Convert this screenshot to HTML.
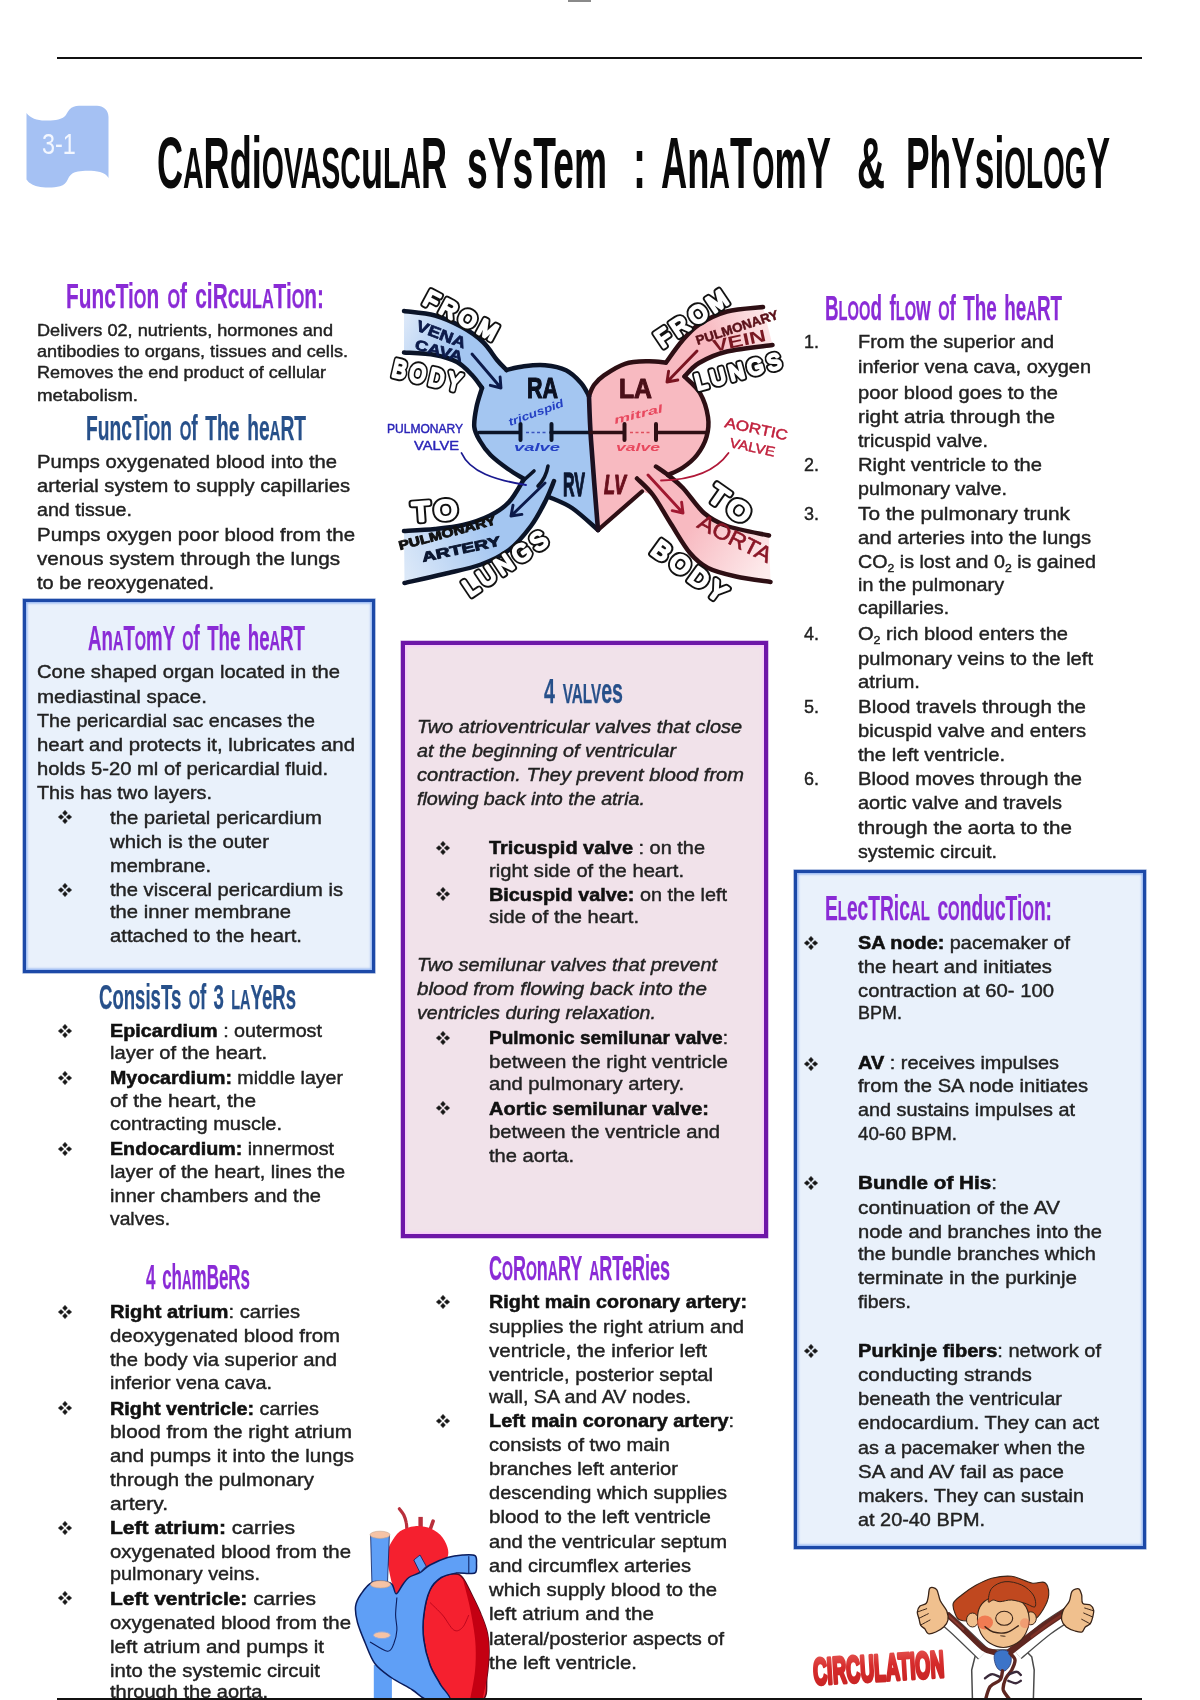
<!DOCTYPE html>
<html><head><meta charset="utf-8"><title>Cardiovascular System : Anatomy &amp; Physiology</title>
<style>
html,body{margin:0;padding:0;background:#fff;font-family:"Liberation Sans",sans-serif}
#pg{filter:blur(.45px);position:relative;width:1200px;height:1700px;overflow:hidden;background:#fff;font-family:"Liberation Sans",sans-serif;color:#222}
.l{position:absolute;white-space:nowrap;transform-origin:0 0;line-height:1.2}
.b,.s,.i{-webkit-text-stroke:.42px #222}
.b{font-size:19px}
.s{font-size:17px}
.i{font-size:19px;font-style:italic}
.l b{font-weight:bold;color:#111;-webkit-text-stroke:.55px #111}
.l sub{font-size:.62em;vertical-align:-.35em;line-height:0}
.h{font-size:35.2px;font-weight:bold;word-spacing:.12em;-webkit-text-stroke:.25px}
.hp{color:#8a2bd6}
.hb{color:#27508a}
.t{font-size:73px;font-weight:bold;color:#0a0a0a}
.t .sc{font-size:.79em}
.sc{font-size:.78em}
.bu{position:absolute}
.box{position:absolute;box-sizing:border-box}
.rule{position:absolute;background:#111}

</style></head>
<body>
<div id="pg">
<div class="rule" style="left:57px;top:57px;width:1085px;height:2px"></div>
<div class="rule" style="left:568px;top:0;width:23px;height:2px;background:#8a8a8a"></div>
<div class="box" style="left:23px;top:599px;width:352px;height:374px;border:3px solid #1c49a8;background:#e9f1fb;box-shadow:0 0 0 .6px rgba(28,73,168,.55),inset 0 0 2px 1.5px rgba(125,165,240,.75)"></div>
<div class="box" style="left:401px;top:641px;width:367px;height:597px;border:4px solid #6e16a8;background:#f1e2ea;box-shadow:0 0 0 .5px rgba(110,22,168,.5),inset 0 0 2.5px 1.5px rgba(250,195,255,.9)"></div>
<div class="box" style="left:794px;top:870px;width:352px;height:679px;border:3px solid #1c49a8;background:#e9f1fb;box-shadow:0 0 0 .6px rgba(28,73,168,.55),inset 0 0 2px 1.5px rgba(125,165,240,.75)"></div>
<svg style="position:absolute;left:20px;top:100px" width="95" height="95" viewBox="20 100 95 95">
<path d="M26.500 113 C30 118 37 120.500 45 120.500 C53 120.500 60 120 64 117 C67 114.500 67 112 69.500 109.500 C72 107 75 105.800 79 105.800 L97 105.800 C103 105.800 108.500 110 108.500 117 L108.500 178 C107 175 104 173 100 172 C94 170.500 84 170.500 78 171.500 C72 172.500 70 175 68 179 C66 183 64 185 60 186.200 C54 188 44 188 38 186.500 C32 185 28.500 182.500 26.500 179.500 Z" fill="#a5c1f3"/>
</svg>
<div class="l" style="left:42px;top:126px;font-size:30px;line-height:1.2;color:#f3f7ff;transform:scaleX(.78)">3-1</div>

<svg style="position:absolute;left:380px;top:280px" width="420" height="330" viewBox="380 280 420 330" font-family="Liberation Sans, sans-serif">
<defs>
<linearGradient id="gvc" gradientUnits="userSpaceOnUse" x1="400" y1="320" x2="500" y2="375"><stop offset="0" stop-color="#dfeaf9"/><stop offset=".55" stop-color="#a4c6f1"/></linearGradient>
<linearGradient id="gpa" gradientUnits="userSpaceOnUse" x1="400" y1="560" x2="540" y2="490"><stop offset="0" stop-color="#dbe8f8"/><stop offset=".6" stop-color="#a4c6f1"/></linearGradient>
<linearGradient id="gpv" gradientUnits="userSpaceOnUse" x1="775" y1="325" x2="675" y2="370"><stop offset="0" stop-color="#fde9ea"/><stop offset=".6" stop-color="#f8bac1"/></linearGradient>
<linearGradient id="gao" gradientUnits="userSpaceOnUse" x1="775" y1="560" x2="650" y2="480"><stop offset="0" stop-color="#fdeced"/><stop offset=".6" stop-color="#f8bac1"/></linearGradient>
</defs>
<path d="M404.0 311.0C409.2 311.8 425.3 312.8 435.0 315.5C444.7 318.2 454.0 322.6 462.0 327.0C470.0 331.4 477.2 336.5 483.0 342.0C488.8 347.5 493.1 355.3 497.0 360.0C500.9 364.7 504.9 368.3 506.5 370.0L482.0 388.0C480.3 385.8 476.2 379.3 472.0 375.0C467.8 370.7 463.2 365.3 457.0 362.0C450.8 358.7 443.8 356.6 435.0 355.0C426.2 353.4 409.2 352.9 404.0 352.5Z" fill="url(#gvc)"/>
<path d="M763.0 307.0C757.0 307.8 737.7 308.6 727.0 311.5C716.3 314.4 706.5 319.6 699.0 324.5C691.5 329.4 687.5 334.7 682.0 341.0C676.5 347.3 668.7 358.9 666.0 362.5L684.5 376.5C686.9 374.2 691.9 367.2 699.0 363.0C706.1 358.8 714.8 354.5 727.0 351.5C739.2 348.5 764.9 346.1 772.5 345.0Z" fill="url(#gpv)"/>
<path d="M524.0 479.0C521.5 482.8 514.7 495.9 509.0 502.0C503.3 508.1 497.7 511.7 490.0 515.5C482.3 519.3 472.2 522.8 463.0 525.0C453.8 527.2 444.8 528.0 435.0 529.0C425.2 530.0 409.2 530.7 404.0 531.0L404.5 583.0C411.1 581.5 431.2 577.1 444.0 574.0C456.8 570.9 470.2 568.5 481.0 564.5C491.8 560.5 500.7 556.4 509.0 550.0C517.3 543.6 524.8 534.3 531.0 526.0C537.2 517.7 542.2 507.5 546.0 500.0C549.8 492.5 552.7 484.2 554.0 481.0Z" fill="url(#gpa)"/>
<path d="M656.0 466.5C658.0 467.9 663.5 471.4 668.0 475.0C672.5 478.6 677.0 481.7 683.0 488.0C689.0 494.3 696.7 506.7 704.0 513.0C711.3 519.3 716.2 522.2 727.0 526.0C737.8 529.8 762.0 533.9 769.0 535.5L770.5 582.0C764.8 581.1 746.4 578.8 736.0 576.5C725.6 574.2 715.7 571.9 708.0 568.0C700.3 564.1 696.2 560.3 690.0 553.0C683.8 545.7 677.2 533.7 671.0 524.0C664.8 514.3 658.7 502.6 653.0 495.0C647.3 487.4 639.7 481.2 637.0 478.5Z" fill="url(#gao)"/>
<path d="M589.0 396.0C587.7 393.8 584.8 387.3 581.0 383.0C577.2 378.7 572.0 373.2 566.0 370.3C560.0 367.4 552.0 366.0 545.0 365.3C538.0 364.6 530.4 365.5 524.0 366.3C517.6 367.1 509.4 369.4 506.5 370.0L497.0 360.0L472.0 375.0L482.0 388.0C481.1 391.2 477.8 400.5 476.5 407.0C475.2 413.5 473.7 421.3 474.3 427.0C474.9 432.7 477.3 436.3 480.0 441.0C482.7 445.7 485.8 450.3 490.5 455.0C495.2 459.7 502.4 465.0 508.0 469.0C513.6 473.0 521.3 477.3 524.0 479.0L509.0 502.0L546.0 500.0L549.0 497.0C552.8 498.8 563.8 502.5 572.0 508.0C580.2 513.5 593.7 526.3 598.0 530.0C596.8 515.0 592.5 462.3 591.0 440.0C589.5 417.7 589.3 403.3 589.0 396.0Z" fill="#a4c6f1"/>
<path d="M589.0 396.0C589.8 394.2 591.5 388.4 594.0 385.0C596.5 381.6 598.8 378.8 604.0 375.3C609.2 371.8 617.7 366.1 625.0 363.8C632.3 361.5 641.2 361.5 648.0 361.3C654.8 361.1 663.0 362.3 666.0 362.5L682.0 341.0L699.0 363.0L684.5 376.5C687.1 379.2 696.1 386.2 700.0 393.0C703.9 399.8 706.9 409.7 708.0 417.0C709.1 424.3 708.3 430.7 706.5 437.0C704.7 443.3 700.9 449.9 697.0 455.0C693.1 460.1 687.8 464.2 683.0 467.5C678.2 470.8 670.5 473.8 668.0 475.0L683.0 488.0L653.0 495.0L642.0 491.5L598.0 530.0C596.8 515.0 592.5 462.3 591.0 440.0C589.5 417.7 589.3 403.3 589.0 396.0Z" fill="#f8bac1"/>
<path d="M404.0 311.0C409.2 311.8 425.3 312.8 435.0 315.5C444.7 318.2 454.0 322.6 462.0 327.0C470.0 331.4 477.2 336.5 483.0 342.0C488.8 347.5 493.1 355.3 497.0 360.0C500.9 364.7 504.9 368.3 506.5 370.0" fill="none" stroke="#0b1428" stroke-width="4.5" stroke-linecap="round" stroke-linejoin="round"/>
<path d="M404.0 352.5C409.2 352.9 426.2 353.4 435.0 355.0C443.8 356.6 450.8 358.7 457.0 362.0C463.2 365.3 467.8 370.7 472.0 375.0C476.2 379.3 480.3 385.8 482.0 388.0" fill="none" stroke="#0b1428" stroke-width="4.5" stroke-linecap="round" stroke-linejoin="round"/>
<path d="M506.5 370.0C509.4 369.4 517.6 367.1 524.0 366.3C530.4 365.5 538.0 364.6 545.0 365.3C552.0 366.0 560.0 367.4 566.0 370.3C572.0 373.2 577.2 378.7 581.0 383.0C584.8 387.3 587.7 393.8 589.0 396.0" fill="none" stroke="#0b1428" stroke-width="4.5" stroke-linecap="round" stroke-linejoin="round"/>
<path d="M482.0 388.0C481.1 391.2 477.8 400.5 476.5 407.0C475.2 413.5 473.7 421.3 474.3 427.0C474.9 432.7 477.3 436.3 480.0 441.0C482.7 445.7 485.8 450.3 490.5 455.0C495.2 459.7 502.4 465.0 508.0 469.0C513.6 473.0 521.3 477.3 524.0 479.0" fill="none" stroke="#0b1428" stroke-width="4.5" stroke-linecap="round" stroke-linejoin="round"/>
<path d="M524.0 479.0C521.5 482.8 514.7 495.9 509.0 502.0C503.3 508.1 497.7 511.7 490.0 515.5C482.3 519.3 472.2 522.8 463.0 525.0C453.8 527.2 444.8 528.0 435.0 529.0C425.2 530.0 409.2 530.7 404.0 531.0" fill="none" stroke="#0b1428" stroke-width="4.5" stroke-linecap="round" stroke-linejoin="round"/>
<path d="M554.0 481.0C552.7 484.2 549.8 492.5 546.0 500.0C542.2 507.5 537.2 517.7 531.0 526.0C524.8 534.3 517.3 543.6 509.0 550.0C500.7 556.4 491.8 560.5 481.0 564.5C470.2 568.5 456.8 570.9 444.0 574.0C431.2 577.1 411.1 581.5 404.5 583.0" fill="none" stroke="#0b1428" stroke-width="4.5" stroke-linecap="round" stroke-linejoin="round"/>
<path d="M549.0 497.0C552.8 498.8 563.8 502.5 572.0 508.0C580.2 513.5 593.7 526.3 598.0 530.0" fill="none" stroke="#0b1428" stroke-width="4.5" stroke-linecap="round" stroke-linejoin="round"/>
<path d="M589.0 396.0C589.8 394.2 591.5 388.4 594.0 385.0C596.5 381.6 598.8 378.8 604.0 375.3C609.2 371.8 617.7 366.1 625.0 363.8C632.3 361.5 641.2 361.5 648.0 361.3C654.8 361.1 663.0 362.3 666.0 362.5" fill="none" stroke="#2e0f14" stroke-width="4.5" stroke-linecap="round" stroke-linejoin="round"/>
<path d="M666.0 362.5C668.7 358.9 676.5 347.3 682.0 341.0C687.5 334.7 691.5 329.4 699.0 324.5C706.5 319.6 716.3 314.4 727.0 311.5C737.7 308.6 757.0 307.8 763.0 307.0" fill="none" stroke="#2e0f14" stroke-width="4.5" stroke-linecap="round" stroke-linejoin="round"/>
<path d="M684.5 376.5C686.9 374.2 691.9 367.2 699.0 363.0C706.1 358.8 714.8 354.5 727.0 351.5C739.2 348.5 764.9 346.1 772.5 345.0" fill="none" stroke="#2e0f14" stroke-width="4.5" stroke-linecap="round" stroke-linejoin="round"/>
<path d="M684.5 376.5C687.1 379.2 696.1 386.2 700.0 393.0C703.9 399.8 706.9 409.7 708.0 417.0C709.1 424.3 708.3 430.7 706.5 437.0C704.7 443.3 700.9 449.9 697.0 455.0C693.1 460.1 687.8 464.2 683.0 467.5C678.2 470.8 670.5 473.8 668.0 475.0" fill="none" stroke="#2e0f14" stroke-width="4.5" stroke-linecap="round" stroke-linejoin="round"/>
<path d="M656.0 466.5C658.0 467.9 663.5 471.4 668.0 475.0C672.5 478.6 677.0 481.7 683.0 488.0C689.0 494.3 696.7 506.7 704.0 513.0C711.3 519.3 716.2 522.2 727.0 526.0C737.8 529.8 762.0 533.9 769.0 535.5" fill="none" stroke="#2e0f14" stroke-width="4.5" stroke-linecap="round" stroke-linejoin="round"/>
<path d="M637.0 478.5C639.7 481.2 647.3 487.4 653.0 495.0C658.7 502.6 664.8 514.3 671.0 524.0C677.2 533.7 683.8 545.7 690.0 553.0C696.2 560.3 700.3 564.1 708.0 568.0C715.7 571.9 725.6 574.2 736.0 576.5C746.4 578.8 764.8 581.1 770.5 582.0" fill="none" stroke="#2e0f14" stroke-width="4.5" stroke-linecap="round" stroke-linejoin="round"/>
<path d="M642 491.5L598 530" stroke="#2e0f14" stroke-width="4.2" stroke-linecap="round"/>
<path d="M589.0 396.0C589.3 403.3 589.5 417.7 591.0 440.0C592.5 462.3 596.8 515.0 598.0 530.0" fill="none" stroke="#1c1020" stroke-width="4.6" stroke-linecap="round" stroke-linejoin="round"/>
<path d="M534 471L524 480M548 466Q546 478 538 486" stroke="#0b1428" stroke-width="3.6" fill="none" stroke-linecap="round"/>
<path d="M479 432.500L520 432.500M551 432.500L590 432.500" stroke="#0b1428" stroke-width="3.6" stroke-linecap="round"/>
<path d="M590 432.500L624 432.500M656 432.500L707 432.500" stroke="#2e0f14" stroke-width="3.6" stroke-linecap="round"/>
<path d="M520.500 424V440M551.500 424V440" stroke="#0b1428" stroke-width="4" stroke-linecap="round"/>
<path d="M624.500 424V440M656 424V440" stroke="#2e0f14" stroke-width="4" stroke-linecap="round"/>
<path d="M526 432.500H546" stroke="#3a55c0" stroke-width="1.4" stroke-dasharray="3 2.500"/>
<path d="M630 432.500H651" stroke="#e0505e" stroke-width="1.4" stroke-dasharray="3 2.500"/>
<path d="M472.0 354.0L501.0 388.0M490.3 385.3L501.0 388.0L500.1 377.0" fill="none" stroke="#0c1a4a" stroke-width="2.9" stroke-linecap="round" stroke-linejoin="round"/>
<path d="M697.0 351.0L667.0 382.0M668.6 371.1L667.0 382.0L677.8 380.0" fill="none" stroke="#7a1420" stroke-width="2.9" stroke-linecap="round" stroke-linejoin="round"/>
<path d="M545.0 483.0L511.0 516.0M513.0 505.2L511.0 516.0L521.9 514.4" fill="none" stroke="#0c1a4a" stroke-width="2.9" stroke-linecap="round" stroke-linejoin="round"/>
<path d="M648.0 475.0L683.0 513.0M672.2 510.7L683.0 513.0L681.6 502.1" fill="none" stroke="#a01830" stroke-width="2.9" stroke-linecap="round" stroke-linejoin="round"/>
<path d="M461.500 453C470 472 495 480 526 485" fill="none" stroke="#1a1a90" stroke-width="1.8" stroke-linecap="round"/>
<path d="M728.500 453C715 472 690 480 661 480.500" fill="none" stroke="#b01838" stroke-width="1.8" stroke-linecap="round"/>
<text x="463" y="316" dy=".36em" text-anchor="middle" font-size="23" font-weight="normal" letter-spacing="4.500" textLength="84" lengthAdjust="spacingAndGlyphs" transform="rotate(28 463 316)" stroke-linejoin="round" stroke-linecap="round" fill="#111" stroke="#111" stroke-width="6.6">FROM</text>
<text x="463" y="316" dy=".36em" text-anchor="middle" font-size="23" font-weight="normal" letter-spacing="4.500" textLength="84" lengthAdjust="spacingAndGlyphs" transform="rotate(28 463 316)" stroke-linejoin="round" stroke-linecap="round" fill="#fff" stroke="#fff" stroke-width="2.800">FROM</text>
<text x="429" y="375.5" dy=".36em" text-anchor="middle" font-size="25" font-weight="normal" letter-spacing="4.500" textLength="74" lengthAdjust="spacingAndGlyphs" transform="rotate(13 429 375.5)" stroke-linejoin="round" stroke-linecap="round" fill="#111" stroke="#111" stroke-width="6.6">BODY</text>
<text x="429" y="375.5" dy=".36em" text-anchor="middle" font-size="25" font-weight="normal" letter-spacing="4.500" textLength="74" lengthAdjust="spacingAndGlyphs" transform="rotate(13 429 375.5)" stroke-linejoin="round" stroke-linecap="round" fill="#fff" stroke="#fff" stroke-width="2.800">BODY</text>
<text x="693" y="317" dy=".36em" text-anchor="middle" font-size="24" font-weight="normal" letter-spacing="4.500" textLength="86" lengthAdjust="spacingAndGlyphs" transform="rotate(-34 693 317)" stroke-linejoin="round" stroke-linecap="round" fill="#111" stroke="#111" stroke-width="6.6">FROM</text>
<text x="693" y="317" dy=".36em" text-anchor="middle" font-size="24" font-weight="normal" letter-spacing="4.500" textLength="86" lengthAdjust="spacingAndGlyphs" transform="rotate(-34 693 317)" stroke-linejoin="round" stroke-linecap="round" fill="#fff" stroke="#fff" stroke-width="2.800">FROM</text>
<text x="740" y="370.5" dy=".36em" text-anchor="middle" font-size="22" font-weight="normal" letter-spacing="4.500" textLength="92" lengthAdjust="spacingAndGlyphs" transform="rotate(-15 740 370.5)" stroke-linejoin="round" stroke-linecap="round" fill="#111" stroke="#111" stroke-width="6.6">LUNGS</text>
<text x="740" y="370.5" dy=".36em" text-anchor="middle" font-size="22" font-weight="normal" letter-spacing="4.500" textLength="92" lengthAdjust="spacingAndGlyphs" transform="rotate(-15 740 370.5)" stroke-linejoin="round" stroke-linecap="round" fill="#fff" stroke="#fff" stroke-width="2.800">LUNGS</text>
<text x="437" y="510" dy=".36em" text-anchor="middle" font-size="27" font-weight="normal" letter-spacing="4.500" textLength="50" lengthAdjust="spacingAndGlyphs" transform="rotate(-4 437 510)" stroke-linejoin="round" stroke-linecap="round" fill="#111" stroke="#111" stroke-width="6.6">TO</text>
<text x="437" y="510" dy=".36em" text-anchor="middle" font-size="27" font-weight="normal" letter-spacing="4.500" textLength="50" lengthAdjust="spacingAndGlyphs" transform="rotate(-4 437 510)" stroke-linejoin="round" stroke-linecap="round" fill="#fff" stroke="#fff" stroke-width="2.800">TO</text>
<text x="507" y="562" dy=".36em" text-anchor="middle" font-size="24" font-weight="normal" letter-spacing="4.500" textLength="100" lengthAdjust="spacingAndGlyphs" transform="rotate(-34 507 562)" stroke-linejoin="round" stroke-linecap="round" fill="#111" stroke="#111" stroke-width="6.6">LUNGS</text>
<text x="507" y="562" dy=".36em" text-anchor="middle" font-size="24" font-weight="normal" letter-spacing="4.500" textLength="100" lengthAdjust="spacingAndGlyphs" transform="rotate(-34 507 562)" stroke-linejoin="round" stroke-linecap="round" fill="#fff" stroke="#fff" stroke-width="2.800">LUNGS</text>
<text x="732" y="505" dy=".36em" text-anchor="middle" font-size="27" font-weight="normal" letter-spacing="4.500" textLength="50" lengthAdjust="spacingAndGlyphs" transform="rotate(35 732 505)" stroke-linejoin="round" stroke-linecap="round" fill="#111" stroke="#111" stroke-width="6.6">TO</text>
<text x="732" y="505" dy=".36em" text-anchor="middle" font-size="27" font-weight="normal" letter-spacing="4.500" textLength="50" lengthAdjust="spacingAndGlyphs" transform="rotate(35 732 505)" stroke-linejoin="round" stroke-linecap="round" fill="#fff" stroke="#fff" stroke-width="2.800">TO</text>
<text x="691.5" y="572" dy=".36em" text-anchor="middle" font-size="25" font-weight="normal" letter-spacing="4.500" textLength="90" lengthAdjust="spacingAndGlyphs" transform="rotate(36 691.5 572)" stroke-linejoin="round" stroke-linecap="round" fill="#111" stroke="#111" stroke-width="6.6">BODY</text>
<text x="691.5" y="572" dy=".36em" text-anchor="middle" font-size="25" font-weight="normal" letter-spacing="4.500" textLength="90" lengthAdjust="spacingAndGlyphs" transform="rotate(36 691.5 572)" stroke-linejoin="round" stroke-linecap="round" fill="#fff" stroke="#fff" stroke-width="2.800">BODY</text>
<text x="415" y="330" font-size="15.5" font-weight="bold" fill="#0c1a4a" transform="rotate(21 415 330)" stroke="#0c1a4a" stroke-width="0.7" stroke-linejoin="round" paint-order="stroke" textLength="52" lengthAdjust="spacingAndGlyphs">VENA</text>
<text x="414" y="349" font-size="14.5" font-weight="bold" fill="#0c1a4a" transform="rotate(15 414 349)" stroke="#0c1a4a" stroke-width="0.7" stroke-linejoin="round" paint-order="stroke" textLength="49" lengthAdjust="spacingAndGlyphs">CAVA</text>
<text x="527" y="397.5" font-size="30" font-weight="bold" fill="#0b1020" stroke="#0b1020" stroke-width="1.2" stroke-linejoin="round" paint-order="stroke" textLength="31" lengthAdjust="spacingAndGlyphs">RA</text>
<text x="619" y="397.5" font-size="27" font-weight="bold" fill="#4a0f18" stroke="#4a0f18" stroke-width="1.1" stroke-linejoin="round" paint-order="stroke" textLength="33" lengthAdjust="spacingAndGlyphs">LA</text>
<text x="563" y="495.5" font-size="33" font-weight="bold" fill="#0b1630" stroke="#0b1630" stroke-width="1.3" stroke-linejoin="round" paint-order="stroke" textLength="22" lengthAdjust="spacingAndGlyphs">RV</text>
<text x="604" y="493.5" font-size="27" font-weight="bold" fill="#6a0f1c" stroke="#6a0f1c" stroke-width="1.2" stroke-linejoin="round" paint-order="stroke" textLength="22" lengthAdjust="spacingAndGlyphs" font-style="italic">LV</text>
<text x="697.5" y="345" font-size="13" font-weight="bold" fill="#5a1018" transform="rotate(-18 697.5 345)" stroke="#5a1018" stroke-width="0.5" stroke-linejoin="round" paint-order="stroke" textLength="86" lengthAdjust="spacingAndGlyphs">PULMONARY</text>
<text x="714" y="352" font-size="17" font-weight="bold" fill="#7a1822" transform="rotate(-12 714 352)" textLength="54" lengthAdjust="spacingAndGlyphs">VEIN</text>
<text x="400" y="550" font-size="12.5" font-weight="bold" fill="#111" transform="rotate(-15 400 550)" stroke="#111" stroke-width="0.9" stroke-linejoin="round" paint-order="stroke" textLength="100" lengthAdjust="spacingAndGlyphs">PULMONARY</text>
<text x="423" y="562" font-size="13.5" font-weight="bold" fill="#0b1630" transform="rotate(-12 423 562)" stroke="#0b1630" stroke-width="0.9" stroke-linejoin="round" paint-order="stroke" textLength="80" lengthAdjust="spacingAndGlyphs">ARTERY</text>
<text x="696" y="527" font-size="22" font-weight="normal" fill="#8a1626" transform="rotate(27 696 527)" stroke="#8a1626" stroke-width="0.6" stroke-linejoin="round" paint-order="stroke" textLength="80" lengthAdjust="spacingAndGlyphs">AORTA</text>
<text x="387" y="433" font-size="12.5" font-weight="normal" fill="#2a24b8" stroke="#2a24b8" stroke-width="0.45" stroke-linejoin="round" paint-order="stroke" textLength="76" lengthAdjust="spacingAndGlyphs">PULMONARY</text>
<text x="414" y="450" font-size="13" font-weight="normal" fill="#2a24b8" stroke="#2a24b8" stroke-width="0.45" stroke-linejoin="round" paint-order="stroke" textLength="45" lengthAdjust="spacingAndGlyphs">VALVE</text>
<text x="724" y="427" font-size="14.5" font-weight="normal" fill="#c0203c" transform="rotate(12 724 427)" stroke="#c0203c" stroke-width="0.45" stroke-linejoin="round" paint-order="stroke" textLength="64" lengthAdjust="spacingAndGlyphs">AORTIC</text>
<text x="729" y="447" font-size="13.5" font-weight="normal" fill="#c0203c" transform="rotate(12 729 447)" stroke="#c0203c" stroke-width="0.45" stroke-linejoin="round" paint-order="stroke" textLength="46" lengthAdjust="spacingAndGlyphs">VALVE</text>
<text x="510" y="426" font-size="11" font-weight="bold" fill="#2440c4" transform="rotate(-20 510 426)" textLength="58" lengthAdjust="spacingAndGlyphs" font-style="italic">tricuspid</text>
<text x="514" y="451" font-size="11.5" font-weight="bold" fill="#2440c4" textLength="46" lengthAdjust="spacingAndGlyphs" font-style="italic">valve</text>
<text x="615" y="424" font-size="11" font-weight="bold" fill="#e8485e" transform="rotate(-14 615 424)" textLength="50" lengthAdjust="spacingAndGlyphs" font-style="italic">mitral</text>
<text x="616" y="451" font-size="11.5" font-weight="bold" fill="#e8485e" textLength="44" lengthAdjust="spacingAndGlyphs" font-style="italic">valve</text>
</svg>
<svg style="position:absolute;left:350px;top:1490px;z-index:3" width="150" height="210" viewBox="350 1490 150 210">
<path d="M399.4 1508.8C400.1 1509.8 402.6 1512.7 403.8 1515.0C404.9 1517.3 405.7 1520.0 406.2 1522.5C406.8 1525.0 406.8 1528.8 406.9 1530.0" fill="none" stroke="#b8303c" stroke-width="3.2" stroke-linecap="round"/>
<path d="M420.6 1516.9L420.6 1528.8" stroke="#b8303c" stroke-width="4.4"/>
<path d="M433.1 1521.2L430.0 1530.0" stroke="#b8303c" stroke-width="3.6" stroke-linecap="round"/>
<path d="M391.2 1542.5C393.3 1539.0 396.0 1534.0 400.0 1531.2C404.0 1528.5 409.8 1526.7 415.0 1526.2C420.2 1525.8 426.7 1526.9 431.2 1528.8C435.8 1530.6 439.7 1534.0 442.5 1537.5C445.3 1541.0 447.5 1546.2 448.1 1550.0C448.8 1553.8 448.0 1556.7 446.2 1560.0C444.5 1563.3 441.9 1567.1 437.5 1570.0C433.1 1572.9 424.8 1575.0 420.0 1577.5C415.2 1580.0 411.7 1582.5 408.8 1585.0C405.8 1587.5 404.3 1590.6 402.5 1592.5C400.7 1594.4 399.8 1597.5 398.1 1596.2C396.5 1595.0 394.2 1590.2 392.5 1585.0C390.8 1579.8 389.0 1570.4 388.1 1565.0C387.3 1559.6 387.0 1556.2 387.5 1552.5C388.0 1548.8 389.2 1546.0 391.2 1542.5" fill="#f5202f"/>
<path d="M370.6 1535.0L389.4 1535.0L387.5 1582.5L371.9 1582.5Z" fill="#5f9ff6" stroke="#0b1c5c" stroke-width=".8"/>
<ellipse cx="380.0" cy="1534.8" rx="10" ry="3.6" fill="#f6c3a5" stroke="#c9a48c" stroke-width=".6"/>
<path d="M430.0 1590.0C432.9 1583.8 437.3 1580.2 441.2 1577.5C445.2 1574.8 450.2 1573.8 453.8 1573.8C457.3 1573.8 459.4 1573.8 462.5 1577.5C465.6 1581.2 469.4 1590.0 472.5 1596.2C475.6 1602.5 478.8 1608.8 481.2 1615.0C483.8 1621.2 486.2 1627.5 487.5 1633.8C488.8 1640.0 489.1 1645.2 489.0 1652.5C488.9 1659.8 488.0 1669.6 486.9 1677.5C485.8 1685.4 488.6 1696.2 482.5 1700.0C476.4 1703.8 457.1 1702.7 450.0 1700.0C442.9 1697.3 443.3 1689.6 440.0 1683.8C436.7 1677.9 432.7 1672.3 430.0 1665.0C427.3 1657.7 424.8 1648.3 423.8 1640.0C422.7 1631.7 422.7 1623.3 423.8 1615.0C424.8 1606.7 427.1 1596.2 430.0 1590.0" fill="#f5202f" stroke="#5a0a1a" stroke-width="1.500"/>
<path d="M462.5 1577.5C464.2 1580.6 469.4 1590.0 472.5 1596.2C475.6 1602.5 478.8 1608.8 481.2 1615.0C483.8 1621.2 486.2 1627.5 487.5 1633.8C488.8 1640.0 489.1 1645.2 489.0 1652.5C488.9 1659.8 488.0 1669.6 486.9 1677.5C485.8 1685.4 483.2 1696.2 482.5 1700.0L470.0 1700.0C470.8 1695.2 474.1 1680.2 475.0 1671.2C475.9 1662.3 475.9 1654.0 475.6 1646.2C475.3 1638.5 474.3 1632.3 473.1 1625.0C472.0 1617.7 470.5 1610.4 468.8 1602.5C467.0 1594.6 463.5 1581.7 462.5 1577.5Z" fill="#c40012"/>
<path d="M430.0 1602.5C432.1 1604.6 438.5 1610.4 442.5 1615.0C446.5 1619.6 450.4 1627.9 453.8 1630.0C457.1 1632.1 460.0 1630.0 462.5 1627.5C465.0 1625.0 467.7 1617.1 468.8 1615.0" fill="none" stroke="#b00018" stroke-width=".8"/>
<path d="M373.8 1665.0L391.9 1665.0L391.9 1700.0L373.8 1700.0Z" fill="#5f9ff6"/>
<path d="M371.9 1582.5C367.5 1584.5 364.0 1589.8 361.2 1593.8C358.5 1597.7 356.2 1601.5 355.6 1606.2C355.0 1611.0 355.9 1616.5 357.5 1622.5C359.1 1628.5 362.1 1635.6 365.0 1642.5C367.9 1649.4 370.6 1657.9 375.0 1663.8C379.4 1669.6 385.0 1673.1 391.2 1677.5C397.5 1681.9 406.5 1686.2 412.5 1690.0C418.5 1693.8 421.2 1698.3 427.5 1700.0C433.8 1701.7 447.9 1702.7 450.0 1700.0C452.1 1697.3 443.3 1689.6 440.0 1683.8C436.7 1677.9 432.7 1672.3 430.0 1665.0C427.3 1657.7 424.8 1648.3 423.8 1640.0C422.7 1631.7 422.7 1623.3 423.8 1615.0C424.8 1606.7 427.1 1596.2 430.0 1590.0C432.9 1583.8 436.9 1580.3 441.2 1577.5C445.6 1574.7 451.7 1573.8 456.2 1573.1C460.8 1572.5 465.5 1573.6 468.8 1573.5C472.0 1573.4 474.3 1574.1 475.6 1572.5C476.9 1570.9 476.6 1566.6 476.5 1563.8C476.4 1560.9 477.3 1557.1 475.0 1555.6C472.7 1554.2 467.1 1554.7 462.5 1555.0C457.9 1555.3 452.9 1555.8 447.5 1557.5C442.1 1559.2 434.6 1562.5 430.0 1565.0C425.4 1567.5 423.5 1570.4 420.0 1572.5C416.5 1574.6 411.7 1575.4 408.8 1577.5C405.8 1579.6 404.6 1582.3 402.5 1585.0C400.4 1587.7 397.9 1593.8 396.2 1593.8C394.6 1593.8 394.0 1587.0 392.5 1585.0C391.0 1583.0 390.9 1582.3 387.5 1581.9C384.1 1581.5 376.2 1580.5 371.9 1582.5" fill="#5f9ff6" stroke="#0b1c5c" stroke-width="1.500"/>
<path d="M413.8 1560.0L420.0 1555.0L426.2 1566.2L420.0 1572.5Z" fill="#5f9ff6" stroke="#0b1c5c" stroke-width=".8"/>
<path d="M468.8 1556.2L468.8 1573.1" stroke="#0b1c5c" stroke-width="1"/>
<ellipse cx="380.6" cy="1584.4" rx="10" ry="3.6" fill="#f6c3a5" stroke="#c9a48c" stroke-width=".6"/>
<ellipse cx="381.9" cy="1635.2" rx="8.500" ry="3.400" fill="#f6c3a5" stroke="#8aa8e0" stroke-width="1"/>
<path d="M396.9 1597.5C396.7 1600.4 395.6 1609.6 395.6 1615.0C395.6 1620.4 397.2 1625.2 396.9 1630.0C396.6 1634.8 395.3 1640.2 393.8 1643.8C392.2 1647.3 391.5 1651.6 387.5 1651.2C383.5 1650.9 372.9 1643.4 370.0 1641.9" fill="none" stroke="#0b1c5c" stroke-width="1.100"/>
</svg>
<svg style="position:absolute;left:800px;top:1560px" width="320" height="140" viewBox="800 1560 320 140" font-family="Liberation Sans, sans-serif">
<defs><linearGradient id="gci" gradientUnits="userSpaceOnUse" x1="0" y1="1650" x2="0" y2="1688"><stop offset="0" stop-color="#e8605c"/><stop offset=".5" stop-color="#d62b2b"/><stop offset="1" stop-color="#c82424"/></linearGradient></defs>
<text x="814" y="1684.500" font-size="37" font-weight="bold" fill="url(#gci)" stroke="url(#gci)" stroke-width="3.600" stroke-linejoin="round" textLength="131" lengthAdjust="spacingAndGlyphs" transform="rotate(-3.400 814 1684.500)">CIRCULATION</text>
<path d="M972.5 1701.7L971.7 1670.0L975.0 1656.7L983.3 1650.0L1025.0 1650.0L1031.7 1656.7L1034.2 1670.0L1033.3 1701.7" fill="#fff" stroke="#4a4a4a" stroke-width="1.500" stroke-linejoin="round"/>
<path d="M944.2 1617.5C946.8 1619.9 953.5 1625.6 960.0 1631.7C966.5 1637.8 979.4 1650.4 983.3 1654.2" fill="none" stroke="#4a4a4a" stroke-width="15" stroke-linecap="butt" stroke-linejoin="round"/>
<path d="M944.2 1617.5C946.8 1619.9 953.5 1625.6 960.0 1631.7C966.5 1637.8 979.4 1650.4 983.3 1654.2" fill="none" stroke="#fff" stroke-width="12.5" stroke-linecap="butt" stroke-linejoin="round"/>
<path d="M1073.3 1610.8C1068.9 1613.8 1056.1 1621.2 1046.7 1628.3C1037.2 1635.4 1021.7 1649.2 1016.7 1653.3" fill="none" stroke="#4a4a4a" stroke-width="15" stroke-linecap="butt" stroke-linejoin="round"/>
<path d="M1073.3 1610.8C1068.9 1613.8 1056.1 1621.2 1046.7 1628.3C1037.2 1635.4 1021.7 1649.2 1016.7 1653.3" fill="none" stroke="#fff" stroke-width="12.5" stroke-linecap="butt" stroke-linejoin="round"/>
<path d="M947.5 1614.7C950.1 1617.1 957.4 1623.6 963.3 1629.2C969.3 1634.8 978.1 1644.4 983.3 1648.3C988.6 1652.2 993.1 1651.8 995.0 1652.5" fill="none" stroke="#5e2620" stroke-width="5.5" stroke-linecap="round" stroke-linejoin="round"/>
<path d="M948.7 1615.8C951.1 1618.1 960.9 1626.9 963.3 1629.2" fill="none" stroke="#8a3a30" stroke-width="2" stroke-linecap="round" stroke-linejoin="round"/>
<path d="M1071.7 1607.5C1067.5 1610.3 1054.4 1618.8 1046.7 1624.2C1038.9 1629.6 1031.1 1635.4 1025.0 1640.0C1018.9 1644.6 1012.5 1649.7 1010.0 1651.7" fill="none" stroke="#5e2620" stroke-width="7" stroke-linecap="round" stroke-linejoin="round"/>
<path d="M1070.0 1610.0C1066.4 1612.4 1054.7 1619.7 1048.3 1624.2C1041.9 1628.6 1034.4 1634.6 1031.7 1636.7" fill="none" stroke="#7e3026" stroke-width="2.5" stroke-linecap="round" stroke-linejoin="round"/>
<path d="M930.0 1588.0C931.4 1586.9 934.9 1587.5 936.7 1589.7C938.4 1591.8 938.7 1597.3 940.3 1600.8C942.0 1604.4 945.4 1607.6 946.7 1610.8C947.9 1614.0 948.5 1617.3 948.0 1620.0C947.5 1622.7 945.7 1625.0 943.7 1627.0C941.6 1629.0 938.4 1630.9 935.8 1632.0C933.3 1633.1 930.2 1634.2 928.3 1633.7C926.5 1633.1 925.9 1630.1 924.7 1628.7C923.4 1627.3 921.6 1627.0 920.7 1625.3C919.7 1623.7 919.6 1620.9 919.0 1618.7C918.4 1616.4 917.2 1614.1 917.3 1612.0C917.5 1609.9 918.5 1607.4 920.0 1606.0C921.5 1604.6 924.9 1604.9 926.3 1603.3C927.7 1601.7 927.7 1598.9 928.3 1596.3C928.9 1593.8 928.6 1589.1 930.0 1588.0" fill="#f0c08e" stroke="#3a2418" stroke-width="1.3" stroke-linejoin="round"/>
<path d="M1078.7 1588.8C1077.1 1588.2 1073.6 1589.2 1072.0 1591.3C1070.4 1593.4 1070.8 1598.2 1069.3 1601.3C1067.9 1604.4 1064.6 1606.9 1063.3 1610.0C1062.1 1613.1 1061.2 1617.2 1061.7 1620.0C1062.2 1622.8 1064.1 1625.2 1066.3 1627.0C1068.6 1628.8 1072.4 1630.2 1075.0 1631.0C1077.6 1631.8 1080.3 1632.7 1082.0 1632.0C1083.7 1631.3 1083.9 1628.4 1085.3 1627.0C1086.7 1625.6 1089.1 1625.3 1090.3 1623.7C1091.6 1622.0 1092.1 1619.2 1092.7 1617.0C1093.2 1614.8 1094.1 1612.3 1093.7 1610.3C1093.3 1608.3 1092.2 1606.2 1090.3 1605.0C1088.5 1603.8 1084.1 1605.0 1082.7 1603.3C1081.2 1601.7 1082.3 1597.4 1081.7 1595.0C1081.0 1592.6 1080.3 1589.4 1078.7 1588.8" fill="#f0c08e" stroke="#3a2418" stroke-width="1.3" stroke-linejoin="round"/>
<path d="M920.8 1625.0C922.4 1624.2 928.5 1620.8 930.0 1620.0" fill="none" stroke="#3a2418" stroke-width="1" stroke-linecap="round" stroke-linejoin="round"/>
<path d="M919.0 1618.3C920.6 1617.6 926.8 1614.4 928.3 1613.7" fill="none" stroke="#3a2418" stroke-width="1" stroke-linecap="round" stroke-linejoin="round"/>
<path d="M918.3 1611.7C919.7 1611.2 925.3 1609.2 926.7 1608.7" fill="none" stroke="#3a2418" stroke-width="1" stroke-linecap="round" stroke-linejoin="round"/>
<path d="M1090.0 1623.7C1088.6 1622.9 1083.1 1620.1 1081.7 1619.3" fill="none" stroke="#3a2418" stroke-width="1" stroke-linecap="round" stroke-linejoin="round"/>
<path d="M1092.7 1617.0C1091.2 1616.3 1085.2 1613.7 1083.7 1613.0" fill="none" stroke="#3a2418" stroke-width="1" stroke-linecap="round" stroke-linejoin="round"/>
<path d="M1093.0 1610.7C1091.6 1610.2 1086.1 1608.4 1084.7 1608.0" fill="none" stroke="#3a2418" stroke-width="1" stroke-linecap="round" stroke-linejoin="round"/>
<path d="M953.3 1603.3C954.4 1600.3 958.1 1597.9 961.7 1595.0C965.3 1592.1 970.0 1588.6 975.0 1585.8C980.0 1583.1 985.6 1579.9 991.7 1578.3C997.8 1576.8 1005.0 1575.6 1011.7 1576.3C1018.3 1577.1 1026.1 1581.9 1031.7 1583.0C1037.2 1584.1 1042.2 1580.7 1045.0 1582.7C1047.8 1584.7 1048.9 1590.6 1048.7 1595.0C1048.4 1599.4 1045.8 1605.1 1043.3 1609.2C1040.9 1613.2 1037.2 1618.8 1034.2 1619.2C1031.1 1619.6 1031.0 1614.6 1025.0 1611.7C1019.0 1608.8 1005.3 1601.7 998.3 1601.7C991.4 1601.7 987.2 1608.6 983.3 1611.7C979.4 1614.7 978.9 1618.6 975.0 1620.0C971.1 1621.4 963.3 1621.1 960.0 1620.0C956.7 1618.9 956.1 1616.1 955.0 1613.3C953.9 1610.6 952.2 1606.4 953.3 1603.3" fill="#c0481f" stroke="#3a2418" stroke-width="1.1" stroke-linejoin="round"/>
<ellipse cx="972.5" cy="1620.0" rx="6" ry="7" fill="#f0c08e" stroke="#3a2418" stroke-width="1"/>
<ellipse cx="1030.8" cy="1618.3" rx="5.500" ry="6.500" fill="#f0c08e" stroke="#3a2418" stroke-width="1"/>
<path d="M980.0 1606.7C982.1 1603.1 985.3 1600.0 990.0 1598.3C994.7 1596.7 1002.8 1595.8 1008.3 1596.7C1013.9 1597.5 1019.9 1599.7 1023.3 1603.3C1026.8 1606.9 1028.8 1613.3 1029.2 1618.3C1029.6 1623.3 1027.9 1629.2 1025.8 1633.3C1023.7 1637.5 1020.4 1641.0 1016.7 1643.3C1012.9 1645.7 1007.8 1647.5 1003.3 1647.5C998.9 1647.5 993.8 1645.7 990.0 1643.3C986.2 1641.0 982.9 1637.2 980.8 1633.3C978.8 1629.4 977.6 1624.4 977.5 1620.0C977.4 1615.6 977.9 1610.3 980.0 1606.7" fill="#f0c08e" stroke="#3a2418" stroke-width="1.1" stroke-linejoin="round"/>
<ellipse cx="985.0" cy="1622.5" rx="8" ry="7" fill="#f0643e" opacity=".75"/>
<ellipse cx="1025.0" cy="1623.3" rx="5" ry="5" fill="#f0805c" opacity=".55"/>
<path d="M988.3 1601.7C988.1 1599.7 988.9 1591.7 991.7 1588.3C994.4 1585.0 1000.0 1582.2 1005.0 1581.7C1010.0 1581.1 1016.9 1582.8 1021.7 1585.0C1026.4 1587.2 1031.1 1591.4 1033.3 1595.0C1035.6 1598.6 1036.4 1605.3 1035.0 1606.7C1033.6 1608.1 1028.9 1604.4 1025.0 1603.3C1021.1 1602.2 1015.8 1600.3 1011.7 1600.0C1007.5 1599.7 1003.1 1601.7 1000.0 1601.7C996.9 1601.7 995.3 1600.0 993.3 1600.0C991.4 1600.0 988.6 1603.6 988.3 1601.7" fill="#c0481f" stroke="#3a2418" stroke-width="1" stroke-linejoin="round"/>
<ellipse cx="1004.2" cy="1618.3" rx="8.500" ry="7" fill="#f0c08e" stroke="#3a2418" stroke-width="1.100"/>
<path d="M985.0 1626.7C986.4 1627.6 989.7 1631.0 993.3 1632.0C996.9 1633.0 1002.5 1633.5 1006.7 1632.5C1010.8 1631.5 1016.4 1626.9 1018.3 1625.8" fill="none" stroke="#3a2418" stroke-width="1.4" stroke-linecap="round" stroke-linejoin="round"/>
<path d="M1000.8 1635.8C1001.5 1635.9 1004.3 1636.2 1005.0 1636.3" fill="none" stroke="#3a2418" stroke-width="1" stroke-linecap="round" stroke-linejoin="round"/>
<path d="M995.0 1653.3C996.3 1651.4 1000.0 1650.0 1002.5 1650.0C1005.0 1650.0 1008.6 1651.1 1010.0 1653.3C1011.4 1655.6 1011.7 1660.4 1010.8 1663.3C1010.0 1666.2 1007.1 1669.9 1005.0 1670.8C1002.9 1671.8 1000.1 1670.7 998.3 1669.2C996.6 1667.6 995.2 1664.3 994.7 1661.7C994.1 1659.0 993.7 1655.3 995.0 1653.3" fill="#3c74c8" stroke="#2a3a70" stroke-width="0.8" stroke-linejoin="round"/>
<path d="M1010.0 1653.3C1010.8 1654.4 1014.7 1657.2 1015.0 1660.0C1015.3 1662.8 1013.2 1666.9 1011.7 1670.0C1010.1 1673.1 1007.2 1675.0 1005.8 1678.3C1004.4 1681.7 1002.4 1686.1 1003.3 1690.0C1004.3 1693.9 1010.3 1699.7 1011.7 1701.7" fill="none" stroke="#5e2620" stroke-width="3.4" stroke-linecap="round" stroke-linejoin="round"/>
<path d="M1002.5 1670.8C1002.1 1672.4 1002.1 1677.4 1000.0 1680.0C997.9 1682.6 992.5 1683.1 990.0 1686.7C987.5 1690.3 985.8 1699.2 985.0 1701.7" fill="none" stroke="#5e2620" stroke-width="3.4" stroke-linecap="round" stroke-linejoin="round"/>
<path d="M985.0 1678.3C986.1 1677.6 989.3 1674.4 991.7 1674.2C994.0 1673.9 997.9 1676.2 999.2 1676.7" fill="none" stroke="#3a2a3a" stroke-width="2.4" stroke-linecap="round" stroke-linejoin="round"/>
<path d="M1009.2 1674.2C1010.4 1673.8 1014.7 1671.5 1016.7 1671.7C1018.6 1671.8 1020.1 1674.4 1020.8 1675.0" fill="none" stroke="#3a2a3a" stroke-width="2.4" stroke-linecap="round" stroke-linejoin="round"/>
<path d="M1008.3 1680.8C1009.6 1681.2 1013.8 1683.3 1015.8 1683.3C1017.9 1683.3 1020.0 1681.2 1020.8 1680.8" fill="none" stroke="#3a2a3a" stroke-width="2.4" stroke-linecap="round" stroke-linejoin="round"/>
</svg>
<div class="rule" style="left:57px;top:1698px;width:1085px;height:3px;z-index:5"></div>

<svg class="bu" style="left:57px;top:809px" width="16" height="16" viewBox="-8 -8 16 16"><path d="M0-6.600 2.300-4 0-1.400-2.300-4Z M0 6.600 2.300 4 0 1.400-2.300 4Z M-6.600 0-4-2.300-1.400 0-4 2.300Z M6.600 0 4-2.300 1.400 0 4 2.300Z" fill="#151515" stroke="#151515" stroke-width=".7" stroke-linejoin="round"/></svg>
<svg class="bu" style="left:57px;top:882px" width="16" height="16" viewBox="-8 -8 16 16"><path d="M0-6.600 2.300-4 0-1.400-2.300-4Z M0 6.600 2.300 4 0 1.400-2.300 4Z M-6.600 0-4-2.300-1.400 0-4 2.300Z M6.600 0 4-2.300 1.400 0 4 2.300Z" fill="#151515" stroke="#151515" stroke-width=".7" stroke-linejoin="round"/></svg>
<svg class="bu" style="left:57px;top:1023px" width="16" height="16" viewBox="-8 -8 16 16"><path d="M0-6.600 2.300-4 0-1.400-2.300-4Z M0 6.600 2.300 4 0 1.400-2.300 4Z M-6.600 0-4-2.300-1.400 0-4 2.300Z M6.600 0 4-2.300 1.400 0 4 2.300Z" fill="#151515" stroke="#151515" stroke-width=".7" stroke-linejoin="round"/></svg>
<svg class="bu" style="left:57px;top:1070px" width="16" height="16" viewBox="-8 -8 16 16"><path d="M0-6.600 2.300-4 0-1.400-2.300-4Z M0 6.600 2.300 4 0 1.400-2.300 4Z M-6.600 0-4-2.300-1.400 0-4 2.300Z M6.600 0 4-2.300 1.400 0 4 2.300Z" fill="#151515" stroke="#151515" stroke-width=".7" stroke-linejoin="round"/></svg>
<svg class="bu" style="left:57px;top:1141px" width="16" height="16" viewBox="-8 -8 16 16"><path d="M0-6.600 2.300-4 0-1.400-2.300-4Z M0 6.600 2.300 4 0 1.400-2.300 4Z M-6.600 0-4-2.300-1.400 0-4 2.300Z M6.600 0 4-2.300 1.400 0 4 2.300Z" fill="#151515" stroke="#151515" stroke-width=".7" stroke-linejoin="round"/></svg>
<svg class="bu" style="left:57px;top:1304px" width="16" height="16" viewBox="-8 -8 16 16"><path d="M0-6.600 2.300-4 0-1.400-2.300-4Z M0 6.600 2.300 4 0 1.400-2.300 4Z M-6.600 0-4-2.300-1.400 0-4 2.300Z M6.600 0 4-2.300 1.400 0 4 2.300Z" fill="#151515" stroke="#151515" stroke-width=".7" stroke-linejoin="round"/></svg>
<svg class="bu" style="left:57px;top:1400px" width="16" height="16" viewBox="-8 -8 16 16"><path d="M0-6.600 2.300-4 0-1.400-2.300-4Z M0 6.600 2.300 4 0 1.400-2.300 4Z M-6.600 0-4-2.300-1.400 0-4 2.300Z M6.600 0 4-2.300 1.400 0 4 2.300Z" fill="#151515" stroke="#151515" stroke-width=".7" stroke-linejoin="round"/></svg>
<svg class="bu" style="left:57px;top:1520px" width="16" height="16" viewBox="-8 -8 16 16"><path d="M0-6.600 2.300-4 0-1.400-2.300-4Z M0 6.600 2.300 4 0 1.400-2.300 4Z M-6.600 0-4-2.300-1.400 0-4 2.300Z M6.600 0 4-2.300 1.400 0 4 2.300Z" fill="#151515" stroke="#151515" stroke-width=".7" stroke-linejoin="round"/></svg>
<svg class="bu" style="left:57px;top:1590px" width="16" height="16" viewBox="-8 -8 16 16"><path d="M0-6.600 2.300-4 0-1.400-2.300-4Z M0 6.600 2.300 4 0 1.400-2.300 4Z M-6.600 0-4-2.300-1.400 0-4 2.300Z M6.600 0 4-2.300 1.400 0 4 2.300Z" fill="#151515" stroke="#151515" stroke-width=".7" stroke-linejoin="round"/></svg>
<svg class="bu" style="left:435px;top:840px" width="16" height="16" viewBox="-8 -8 16 16"><path d="M0-6.600 2.300-4 0-1.400-2.300-4Z M0 6.600 2.300 4 0 1.400-2.300 4Z M-6.600 0-4-2.300-1.400 0-4 2.300Z M6.600 0 4-2.300 1.400 0 4 2.300Z" fill="#151515" stroke="#151515" stroke-width=".7" stroke-linejoin="round"/></svg>
<svg class="bu" style="left:435px;top:886px" width="16" height="16" viewBox="-8 -8 16 16"><path d="M0-6.600 2.300-4 0-1.400-2.300-4Z M0 6.600 2.300 4 0 1.400-2.300 4Z M-6.600 0-4-2.300-1.400 0-4 2.300Z M6.600 0 4-2.300 1.400 0 4 2.300Z" fill="#151515" stroke="#151515" stroke-width=".7" stroke-linejoin="round"/></svg>
<svg class="bu" style="left:435px;top:1030px" width="16" height="16" viewBox="-8 -8 16 16"><path d="M0-6.600 2.300-4 0-1.400-2.300-4Z M0 6.600 2.300 4 0 1.400-2.300 4Z M-6.600 0-4-2.300-1.400 0-4 2.300Z M6.600 0 4-2.300 1.400 0 4 2.300Z" fill="#151515" stroke="#151515" stroke-width=".7" stroke-linejoin="round"/></svg>
<svg class="bu" style="left:435px;top:1100px" width="16" height="16" viewBox="-8 -8 16 16"><path d="M0-6.600 2.300-4 0-1.400-2.300-4Z M0 6.600 2.300 4 0 1.400-2.300 4Z M-6.600 0-4-2.300-1.400 0-4 2.300Z M6.600 0 4-2.300 1.400 0 4 2.300Z" fill="#151515" stroke="#151515" stroke-width=".7" stroke-linejoin="round"/></svg>
<svg class="bu" style="left:435px;top:1294px" width="16" height="16" viewBox="-8 -8 16 16"><path d="M0-6.600 2.300-4 0-1.400-2.300-4Z M0 6.600 2.300 4 0 1.400-2.300 4Z M-6.600 0-4-2.300-1.400 0-4 2.300Z M6.600 0 4-2.300 1.400 0 4 2.300Z" fill="#151515" stroke="#151515" stroke-width=".7" stroke-linejoin="round"/></svg>
<svg class="bu" style="left:435px;top:1413px" width="16" height="16" viewBox="-8 -8 16 16"><path d="M0-6.600 2.300-4 0-1.400-2.300-4Z M0 6.600 2.300 4 0 1.400-2.300 4Z M-6.600 0-4-2.300-1.400 0-4 2.300Z M6.600 0 4-2.300 1.400 0 4 2.300Z" fill="#151515" stroke="#151515" stroke-width=".7" stroke-linejoin="round"/></svg>
<svg class="bu" style="left:803px;top:935px" width="16" height="16" viewBox="-8 -8 16 16"><path d="M0-6.600 2.300-4 0-1.400-2.300-4Z M0 6.600 2.300 4 0 1.400-2.300 4Z M-6.600 0-4-2.300-1.400 0-4 2.300Z M6.600 0 4-2.300 1.400 0 4 2.300Z" fill="#151515" stroke="#151515" stroke-width=".7" stroke-linejoin="round"/></svg>
<svg class="bu" style="left:803px;top:1056px" width="16" height="16" viewBox="-8 -8 16 16"><path d="M0-6.600 2.300-4 0-1.400-2.300-4Z M0 6.600 2.300 4 0 1.400-2.300 4Z M-6.600 0-4-2.300-1.400 0-4 2.300Z M6.600 0 4-2.300 1.400 0 4 2.300Z" fill="#151515" stroke="#151515" stroke-width=".7" stroke-linejoin="round"/></svg>
<svg class="bu" style="left:803px;top:1175px" width="16" height="16" viewBox="-8 -8 16 16"><path d="M0-6.600 2.300-4 0-1.400-2.300-4Z M0 6.600 2.300 4 0 1.400-2.300 4Z M-6.600 0-4-2.300-1.400 0-4 2.300Z M6.600 0 4-2.300 1.400 0 4 2.300Z" fill="#151515" stroke="#151515" stroke-width=".7" stroke-linejoin="round"/></svg>
<svg class="bu" style="left:803px;top:1343px" width="16" height="16" viewBox="-8 -8 16 16"><path d="M0-6.600 2.300-4 0-1.400-2.300-4Z M0 6.600 2.300 4 0 1.400-2.300 4Z M-6.600 0-4-2.300-1.400 0-4 2.300Z M6.600 0 4-2.300 1.400 0 4 2.300Z" fill="#151515" stroke="#151515" stroke-width=".7" stroke-linejoin="round"/></svg>
<div class="l t" style="left:157px;top:119px;transform:scaleX(0.4941)">C<span class="sc">A</span>Rdi<span class="sc">OVASC</span>u<span class="sc">LA</span>R</div>
<div class="l t" style="left:467px;top:119px;transform:scaleX(0.5099)">sYsTem</div>
<div class="l t" style="left:633px;top:119px;transform:scaleX(0.5347)">:</div>
<div class="l t" style="left:661px;top:119px;transform:scaleX(0.4971)">An<span class="sc">A</span>T<span class="sc">O</span>mY</div>
<div class="l t" style="left:857px;top:119px;transform:scaleX(0.5311)">&amp;</div>
<div class="l t" style="left:906px;top:119px;transform:scaleX(0.4842)">PhYsi<span class="sc">OLOG</span>Y</div>
<div class="l h hp" style="left:66px;top:275px;transform:scaleX(0.5915)">FuncTi<span class="sc">O</span>n <span class="sc">O</span>f ciRcu<span class="sc">LA</span>Ti<span class="sc">O</span>n:</div>
<div class="l s" style="left:37px;top:321px;transform:scaleX(1.0655)">Delivers 02, nutrients, hormones and</div>
<div class="l s" style="left:37px;top:342px;transform:scaleX(1.0650)">antibodies to organs, tissues and cells.</div>
<div class="l s" style="left:37px;top:363px;transform:scaleX(1.0619)">Removes the end product of cellular</div>
<div class="l s" style="left:37px;top:386px;transform:scaleX(1.1021)">metabolism.</div>
<div class="l h hb" style="left:86px;top:407px;transform:scaleX(0.5460)">FuncTi<span class="sc">O</span>n <span class="sc">O</span>f The he<span class="sc">A</span>RT</div>
<div class="l b" style="left:37px;top:451px;transform:scaleX(1.0637)">Pumps oxygenated blood into the</div>
<div class="l b" style="left:37px;top:475px;transform:scaleX(1.0624)">arterial system to supply capillaries</div>
<div class="l b" style="left:37px;top:499px;transform:scaleX(1.0337)">and tissue.</div>
<div class="l b" style="left:37px;top:524px;transform:scaleX(1.0753)">Pumps oxygen poor blood from the</div>
<div class="l b" style="left:37px;top:548px;transform:scaleX(1.0866)">venous system through the lungs</div>
<div class="l b" style="left:37px;top:572px;transform:scaleX(1.0538)">to be reoxygenated.</div>
<div class="l h hp" style="left:88px;top:617px;transform:scaleX(0.5304)">An<span class="sc">A</span>T<span class="sc">O</span>mY <span class="sc">O</span>f The he<span class="sc">A</span>RT</div>
<div class="l b" style="left:37px;top:661px;transform:scaleX(1.0623)">Cone shaped organ located in the</div>
<div class="l b" style="left:37px;top:686px;transform:scaleX(1.0802)">mediastinal space.</div>
<div class="l b" style="left:37px;top:710px;transform:scaleX(1.0363)">The pericardial sac encases the</div>
<div class="l b" style="left:37px;top:734px;transform:scaleX(1.0714)">heart and protects it, lubricates and</div>
<div class="l b" style="left:37px;top:758px;transform:scaleX(1.0639)">holds 5-20 ml of pericardial fluid.</div>
<div class="l b" style="left:37px;top:782px;transform:scaleX(1.0422)">This has two layers.</div>
<div class="l b" style="left:110px;top:807px;transform:scaleX(1.0678)">the parietal pericardium</div>
<div class="l b" style="left:110px;top:831px;transform:scaleX(1.0753)">which is the outer</div>
<div class="l b" style="left:110px;top:855px;transform:scaleX(1.0509)">membrane.</div>
<div class="l b" style="left:110px;top:879px;transform:scaleX(1.0608)">the visceral pericardium is</div>
<div class="l b" style="left:110px;top:901px;transform:scaleX(1.0644)">the inner membrane</div>
<div class="l b" style="left:110px;top:925px;transform:scaleX(1.0692)">attached to the heart.</div>
<div class="l h hb" style="left:99px;top:976px;transform:scaleX(0.5280)">ConsisTs <span class="sc">O</span>f 3 <span class="sc">LA</span>YeRs</div>
<div class="l b" style="left:110px;top:1020px;transform:scaleX(1.0402)"><b>Epicardium</b> : outermost</div>
<div class="l b" style="left:110px;top:1042px;transform:scaleX(1.0617)">layer of the heart.</div>
<div class="l b" style="left:110px;top:1067px;transform:scaleX(1.0311)"><b>Myocardium:</b> middle layer</div>
<div class="l b" style="left:110px;top:1090px;transform:scaleX(1.0970)">of the heart, the</div>
<div class="l b" style="left:110px;top:1113px;transform:scaleX(1.0508)">contracting muscle.</div>
<div class="l b" style="left:110px;top:1138px;transform:scaleX(1.0349)"><b>Endocardium:</b> innermost</div>
<div class="l b" style="left:110px;top:1161px;transform:scaleX(1.0495)">layer of the heart, lines the</div>
<div class="l b" style="left:110px;top:1185px;transform:scaleX(1.0570)">inner chambers and the</div>
<div class="l b" style="left:110px;top:1208px;transform:scaleX(1.0145)">valves.</div>
<div class="l h hp" style="left:146px;top:1256px;transform:scaleX(0.4821)">4 ch<span class="sc">A</span>mBeRs</div>
<div class="l b" style="left:110px;top:1301px;transform:scaleX(1.0587)"><b>Right atrium</b>: carries</div>
<div class="l b" style="left:110px;top:1325px;transform:scaleX(1.0726)">deoxygenated blood from</div>
<div class="l b" style="left:110px;top:1349px;transform:scaleX(1.0639)">the body via superior and</div>
<div class="l b" style="left:110px;top:1372px;transform:scaleX(1.0435)">inferior vena cava.</div>
<div class="l b" style="left:110px;top:1398px;transform:scaleX(1.0418)"><b>Right ventricle:</b> carries</div>
<div class="l b" style="left:110px;top:1421px;transform:scaleX(1.0912)">blood from the right atrium</div>
<div class="l b" style="left:110px;top:1445px;transform:scaleX(1.0744)">and pumps it into the lungs</div>
<div class="l b" style="left:110px;top:1469px;transform:scaleX(1.0730)">through the pulmonary</div>
<div class="l b" style="left:110px;top:1493px;transform:scaleX(1.1061)">artery.</div>
<div class="l b" style="left:110px;top:1517px;transform:scaleX(1.1091)"><b>Left atrium:</b> carries</div>
<div class="l b" style="left:110px;top:1541px;transform:scaleX(1.0711)">oxygenated blood from the</div>
<div class="l b" style="left:110px;top:1563px;transform:scaleX(1.0444)">pulmonary veins.</div>
<div class="l b" style="left:110px;top:1588px;transform:scaleX(1.1022)"><b>Left ventricle:</b> carries</div>
<div class="l b" style="left:110px;top:1612px;transform:scaleX(1.0711)">oxygenated blood from the</div>
<div class="l b" style="left:110px;top:1636px;transform:scaleX(1.0836)">left atrium and pumps it</div>
<div class="l b" style="left:110px;top:1660px;transform:scaleX(1.0692)">into the systemic circuit</div>
<div class="l b" style="left:110px;top:1681px;transform:scaleX(1.0533)">through the aorta.</div>
<div class="l h hb" style="left:544px;top:670px;transform:scaleX(0.5570)">4 <span class="sc">VALV</span>es</div>
<div class="l i" style="left:417px;top:716px;transform:scaleX(1.0480)">Two atrioventricular valves that close</div>
<div class="l i" style="left:417px;top:740px;transform:scaleX(1.0390)">at the beginning of ventricular</div>
<div class="l i" style="left:417px;top:764px;transform:scaleX(1.0568)">contraction. They prevent blood from</div>
<div class="l i" style="left:417px;top:788px;transform:scaleX(1.0378)">flowing back into the atria.</div>
<div class="l b" style="left:489px;top:837px;transform:scaleX(1.0487)"><b>Tricuspid valve</b> : on the</div>
<div class="l b" style="left:489px;top:860px;transform:scaleX(1.0610)">right side of the heart.</div>
<div class="l b" style="left:489px;top:884px;transform:scaleX(1.0433)"><b>Bicuspid valve:</b> on the left</div>
<div class="l b" style="left:489px;top:906px;transform:scaleX(1.0597)">side of the heart.</div>
<div class="l i" style="left:417px;top:954px;transform:scaleX(1.0457)">Two semilunar valves that prevent</div>
<div class="l i" style="left:417px;top:978px;transform:scaleX(1.0853)">blood from flowing back into the</div>
<div class="l i" style="left:417px;top:1002px;transform:scaleX(1.0333)">ventricles during relaxation.</div>
<div class="l b" style="left:489px;top:1027px;transform:scaleX(1.0014)"><b>Pulmonic semilunar valve</b>:</div>
<div class="l b" style="left:489px;top:1051px;transform:scaleX(1.0776)">between the right ventricle</div>
<div class="l b" style="left:489px;top:1073px;transform:scaleX(1.0632)">and pulmonary artery.</div>
<div class="l b" style="left:489px;top:1098px;transform:scaleX(1.0522)"><b>Aortic semilunar valve:</b></div>
<div class="l b" style="left:489px;top:1121px;transform:scaleX(1.0667)">between the ventricle and</div>
<div class="l b" style="left:489px;top:1145px;transform:scaleX(1.0588)">the aorta.</div>
<div class="l h hp" style="left:489px;top:1247px;transform:scaleX(0.5115)">C<span class="sc">O</span>R<span class="sc">O</span>n<span class="sc">A</span>RY <span class="sc">A</span>RTeRies</div>
<div class="l b" style="left:489px;top:1291px;transform:scaleX(1.0354)"><b>Right main coronary artery:</b></div>
<div class="l b" style="left:489px;top:1316px;transform:scaleX(1.0683)">supplies the right atrium and</div>
<div class="l b" style="left:489px;top:1340px;transform:scaleX(1.0808)">ventricle, the inferior left</div>
<div class="l b" style="left:489px;top:1364px;transform:scaleX(1.0605)">ventricle, posterior septal</div>
<div class="l b" style="left:489px;top:1386px;transform:scaleX(1.0356)">wall, SA and AV nodes.</div>
<div class="l b" style="left:489px;top:1410px;transform:scaleX(1.0451)"><b>Left main coronary artery</b>:</div>
<div class="l b" style="left:489px;top:1434px;transform:scaleX(1.0580)">consists of two main</div>
<div class="l b" style="left:489px;top:1458px;transform:scaleX(1.0588)">branches left anterior</div>
<div class="l b" style="left:489px;top:1482px;transform:scaleX(1.0529)">descending which supplies</div>
<div class="l b" style="left:489px;top:1506px;transform:scaleX(1.0778)">blood to the left ventricle</div>
<div class="l b" style="left:489px;top:1531px;transform:scaleX(1.0629)">and the ventricular septum</div>
<div class="l b" style="left:489px;top:1555px;transform:scaleX(1.0569)">and circumflex arteries</div>
<div class="l b" style="left:489px;top:1579px;transform:scaleX(1.0685)">which supply blood to the</div>
<div class="l b" style="left:489px;top:1603px;transform:scaleX(1.0849)">left atrium and the</div>
<div class="l b" style="left:489px;top:1628px;transform:scaleX(1.0546)">lateral/posterior aspects of</div>
<div class="l b" style="left:489px;top:1652px;transform:scaleX(1.0698)">the left ventricle.</div>
<div class="l h hp" style="left:825px;top:287px;transform:scaleX(0.5350)">B<span class="sc">LOO</span>d f<span class="sc">LO</span>w <span class="sc">O</span>f The he<span class="sc">A</span>RT</div>
<div class="l b" style="left:804px;top:331px;transform:scaleX(0.9458)">1.</div>
<div class="l b" style="left:858px;top:331px;transform:scaleX(1.0486)">From the superior and</div>
<div class="l b" style="left:858px;top:356px;transform:scaleX(1.0505)">inferior vena cava, oxygen</div>
<div class="l b" style="left:858px;top:382px;transform:scaleX(1.0577)">poor blood goes to the</div>
<div class="l b" style="left:858px;top:406px;transform:scaleX(1.0907)">right atria through the</div>
<div class="l b" style="left:858px;top:430px;transform:scaleX(1.0344)">tricuspid valve.</div>
<div class="l b" style="left:804px;top:454px;transform:scaleX(0.9458)">2.</div>
<div class="l b" style="left:858px;top:454px;transform:scaleX(1.0623)">Right ventricle to the</div>
<div class="l b" style="left:858px;top:478px;transform:scaleX(1.0374)">pulmonary valve.</div>
<div class="l b" style="left:804px;top:503px;transform:scaleX(0.9458)">3.</div>
<div class="l b" style="left:858px;top:503px;transform:scaleX(1.0969)">To the pulmonary trunk</div>
<div class="l b" style="left:858px;top:527px;transform:scaleX(1.0657)">and arteries into the lungs</div>
<div class="l b" style="left:858px;top:551px;transform:scaleX(1.0365)">CO<sub>2</sub> is lost and 0<sub>2</sub> is gained</div>
<div class="l b" style="left:858px;top:574px;transform:scaleX(1.0394)">in the pulmonary</div>
<div class="l b" style="left:858px;top:597px;transform:scaleX(1.0138)">capillaries.</div>
<div class="l b" style="left:804px;top:623px;transform:scaleX(0.9458)">4.</div>
<div class="l b" style="left:858px;top:623px;transform:scaleX(1.0564)">O<sub>2</sub> rich blood enters the</div>
<div class="l b" style="left:858px;top:648px;transform:scaleX(1.0595)">pulmonary veins to the left</div>
<div class="l b" style="left:858px;top:671px;transform:scaleX(1.0675)">atrium.</div>
<div class="l b" style="left:804px;top:696px;transform:scaleX(0.9458)">5.</div>
<div class="l b" style="left:858px;top:696px;transform:scaleX(1.0793)">Blood travels through the</div>
<div class="l b" style="left:858px;top:720px;transform:scaleX(1.0633)">bicuspid valve and enters</div>
<div class="l b" style="left:858px;top:744px;transform:scaleX(1.0626)">the left ventricle.</div>
<div class="l b" style="left:804px;top:768px;transform:scaleX(0.9458)">6.</div>
<div class="l b" style="left:858px;top:768px;transform:scaleX(1.0604)">Blood moves through the</div>
<div class="l b" style="left:858px;top:792px;transform:scaleX(1.0498)">aortic valve and travels</div>
<div class="l b" style="left:858px;top:817px;transform:scaleX(1.0833)">through the aorta to the</div>
<div class="l b" style="left:858px;top:841px;transform:scaleX(1.0367)">systemic circuit.</div>
<div class="l h hp" style="left:825px;top:887px;transform:scaleX(0.5452)">E<span class="sc">L</span>ecTRic<span class="sc">AL</span> c<span class="sc">O</span>nducTi<span class="sc">O</span>n:</div>
<div class="l b" style="left:858px;top:932px;transform:scaleX(1.0439)"><b>SA node:</b> pacemaker of</div>
<div class="l b" style="left:858px;top:956px;transform:scaleX(1.0678)">the heart and initiates</div>
<div class="l b" style="left:858px;top:980px;transform:scaleX(1.0664)">contraction at 60- 100</div>
<div class="l b" style="left:858px;top:1002px;transform:scaleX(0.9472)">BPM.</div>
<div class="l b" style="left:858px;top:1052px;transform:scaleX(1.0478)"><b>AV</b> : receives impulses</div>
<div class="l b" style="left:858px;top:1075px;transform:scaleX(1.0623)">from the SA node initiates</div>
<div class="l b" style="left:858px;top:1099px;transform:scaleX(1.0430)">and sustains impulses at</div>
<div class="l b" style="left:858px;top:1123px;transform:scaleX(0.9868)">40-60 BPM.</div>
<div class="l b" style="left:858px;top:1172px;transform:scaleX(1.0882)"><b>Bundle of His</b>:</div>
<div class="l b" style="left:858px;top:1197px;transform:scaleX(1.1011)">continuation of the AV</div>
<div class="l b" style="left:858px;top:1221px;transform:scaleX(1.0595)">node and branches into the</div>
<div class="l b" style="left:858px;top:1243px;transform:scaleX(1.0529)">the bundle branches which</div>
<div class="l b" style="left:858px;top:1267px;transform:scaleX(1.0800)">terminate in the purkinje</div>
<div class="l b" style="left:858px;top:1291px;transform:scaleX(1.0242)">fibers.</div>
<div class="l b" style="left:858px;top:1340px;transform:scaleX(1.0555)"><b>Purkinje fibers</b>: network of</div>
<div class="l b" style="left:858px;top:1364px;transform:scaleX(1.0909)">conducting strands</div>
<div class="l b" style="left:858px;top:1388px;transform:scaleX(1.0554)">beneath the ventricular</div>
<div class="l b" style="left:858px;top:1412px;transform:scaleX(1.0531)">endocardium. They can act</div>
<div class="l b" style="left:858px;top:1437px;transform:scaleX(1.0433)">as a pacemaker when the</div>
<div class="l b" style="left:858px;top:1461px;transform:scaleX(1.0794)">SA and AV fail as pace</div>
<div class="l b" style="left:858px;top:1485px;transform:scaleX(1.0456)">makers. They can sustain</div>
<div class="l b" style="left:858px;top:1509px;transform:scaleX(1.0457)">at 20-40 BPM.</div>
</div>
</body></html>
